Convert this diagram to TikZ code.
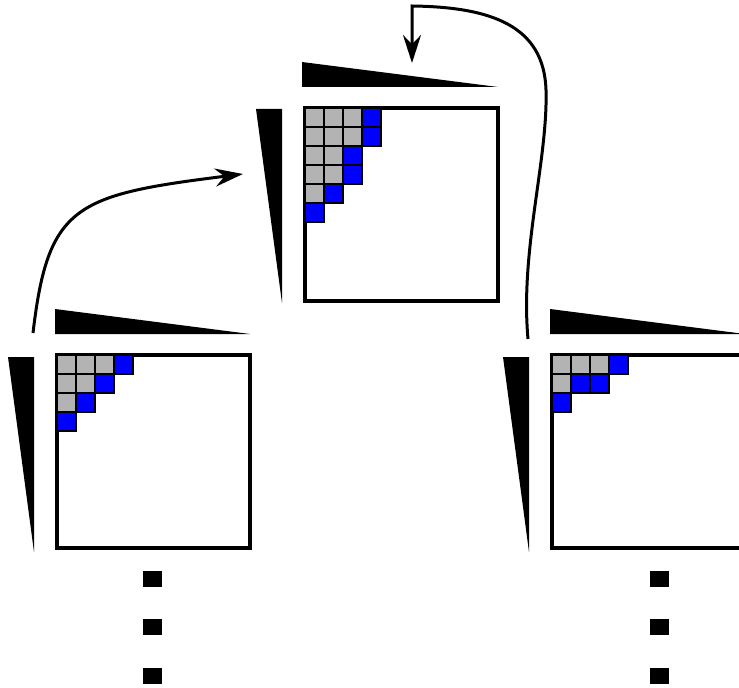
\documentclass[tikz,border=0pt]{standalone}
\usetikzlibrary{arrows.meta}

\definecolor{cellgray}{RGB}{179,179,179}
\definecolor{cellblue}{RGB}{0,0,255}

\tikzset{
  matbox/.style={draw, line width=2.5pt, minimum size=144.75pt, inner sep=0pt, fill=white},
  wedge/.style={fill=black},
  cellg/.style={draw, line width=2.1pt, fill=cellgray},
  cellb/.style={draw, line width=2.1pt, fill=cellblue},
  dot/.style={fill=black},
  flow/.style={line width=2.25pt, -{Stealth[length=21pt, width=13.5pt, inset=7pt]}}
}

\begin{document}
\begin{tikzpicture}[x=0.75pt,y=0.75pt,yscale=-1,xscale=1]
\useasboundingbox (0,0) rectangle (739,688);

%Shape: Square [id:mtop]
\node[matbox] (mtop) at (401.5,204.5) {};
%Shape: Square [id:mleft]
\node[matbox] (mleft) at (153.5,451.5) {};
%Shape: Square [id:mright]
\node[matbox] (mright) at (648.5,451.5) {};

%Shape: Triangle [id:top wedges]
\fill[wedge] (302,62) -- (302,87) -- (498,87) -- cycle ;
\fill[wedge] (256,109) -- (282,109) -- (282,303) -- cycle ;
%Shape: Triangle [id:left wedges]
\fill[wedge] (55,309) -- (55,334) -- (250,334) -- cycle ;
\fill[wedge] (8,357) -- (34,357) -- (34,552) -- cycle ;
%Shape: Triangle [id:right wedges]
\fill[wedge] (550,309) -- (550,334) -- (745,334) -- cycle ;
\fill[wedge] (503,357) -- (529,357) -- (529,552) -- cycle ;

%Shape: Cells [id:top block]
\draw[cellg] (305,108) rectangle ++(19,19) ;
\draw[cellg] (324,108) rectangle ++(19,19) ;
\draw[cellg] (343,108) rectangle ++(19,19) ;
\draw[cellb] (362,108) rectangle ++(19,19) ;
\draw[cellg] (305,127) rectangle ++(19,19) ;
\draw[cellg] (324,127) rectangle ++(19,19) ;
\draw[cellg] (343,127) rectangle ++(19,19) ;
\draw[cellb] (362,127) rectangle ++(19,19) ;
\draw[cellg] (305,146) rectangle ++(19,19) ;
\draw[cellg] (324,146) rectangle ++(19,19) ;
\draw[cellb] (343,146) rectangle ++(19,19) ;
\draw[cellg] (305,165) rectangle ++(19,19) ;
\draw[cellg] (324,165) rectangle ++(19,19) ;
\draw[cellb] (343,165) rectangle ++(19,19) ;
\draw[cellg] (305,184) rectangle ++(19,19) ;
\draw[cellb] (324,184) rectangle ++(19,19) ;
\draw[cellb] (305,203) rectangle ++(19,19) ;

%Shape: Cells [id:left block]
\draw[cellg] (57,355) rectangle ++(19,19) ;
\draw[cellg] (76,355) rectangle ++(19,19) ;
\draw[cellg] (95,355) rectangle ++(19,19) ;
\draw[cellb] (114,355) rectangle ++(19,19) ;
\draw[cellg] (57,374) rectangle ++(19,19) ;
\draw[cellg] (76,374) rectangle ++(19,19) ;
\draw[cellb] (95,374) rectangle ++(19,19) ;
\draw[cellg] (57,393) rectangle ++(19,19) ;
\draw[cellb] (76,393) rectangle ++(19,19) ;
\draw[cellb] (57,412) rectangle ++(19,19) ;

%Shape: Cells [id:right block]
\draw[cellg] (552,355) rectangle ++(19,19) ;
\draw[cellg] (571,355) rectangle ++(19,19) ;
\draw[cellg] (590,355) rectangle ++(19,19) ;
\draw[cellb] (609,355) rectangle ++(19,19) ;
\draw[cellg] (552,374) rectangle ++(19,19) ;
\draw[cellb] (571,374) rectangle ++(19,19) ;
\draw[cellb] (590,374) rectangle ++(19,19) ;
\draw[cellb] (552,393) rectangle ++(19,19) ;

%Shape: Dots [id:continuation]
\fill[dot] (143,571) rectangle (162,587) ;
\fill[dot] (143,619) rectangle (162,635) ;
\fill[dot] (143,668) rectangle (162,684) ;
\fill[dot] (650,571) rectangle (669,587) ;
\fill[dot] (650,619) rectangle (669,635) ;
\fill[dot] (650,668) rectangle (669,684) ;

%Curve Lines [id:connectors]
\coordinate (lstart) at (33,333) ;
\coordinate (ltip) at (243,174) ;
\coordinate (rstart) at (528,339) ;
\coordinate (rbend) at (412,6) ;
\coordinate (rtip) at (412,63) ;
\draw[flow] (lstart) .. controls (48,205) and (75,195) .. (ltip) ;
\draw[flow] (rstart) .. controls (520,250) and (548,160) .. (546,90) .. controls (544,25) and (490,7) .. (rbend) -- (rtip) ;

\end{tikzpicture}
\end{document}
